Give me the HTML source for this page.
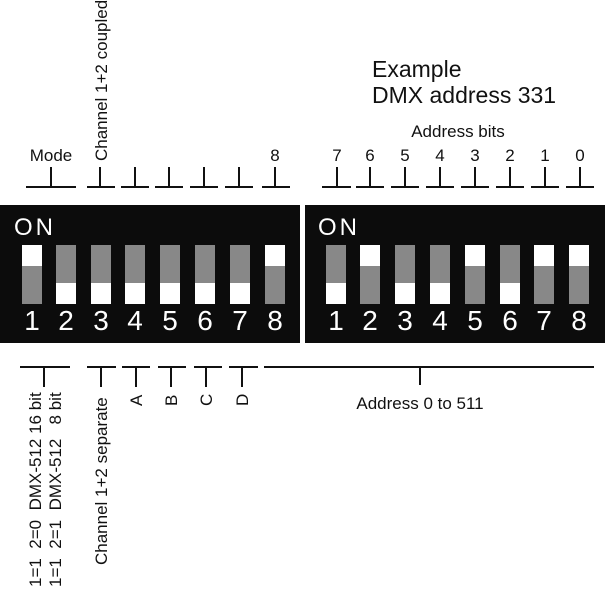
<!DOCTYPE html>
<html><head><style>body{margin:0;background:#fff}svg{display:block}</style></head>
<body>
<svg width="605" height="591" viewBox="0 0 605 591" xmlns="http://www.w3.org/2000/svg" font-family="Liberation Sans, Arial, sans-serif">
<rect width="605" height="591" fill="#fff"/>
<rect x="0" y="205" width="300" height="138" fill="#0c0c0c"/>
<rect x="305" y="205" width="300" height="138" fill="#0c0c0c"/>
<text x="14" y="235" font-size="24" fill="#fff" letter-spacing="3">ON</text>
<text x="318" y="235" font-size="24" fill="#fff" letter-spacing="3">ON</text>
<g>
<rect x="22" y="245" width="20" height="59" fill="#888"/><rect x="22" y="245" width="20" height="21" fill="#fff"/>
<rect x="56" y="245" width="20" height="59" fill="#888"/><rect x="56" y="283" width="20" height="21" fill="#fff"/>
<rect x="91" y="245" width="20" height="59" fill="#888"/><rect x="91" y="283" width="20" height="21" fill="#fff"/>
<rect x="125" y="245" width="20" height="59" fill="#888"/><rect x="125" y="283" width="20" height="21" fill="#fff"/>
<rect x="160" y="245" width="20" height="59" fill="#888"/><rect x="160" y="283" width="20" height="21" fill="#fff"/>
<rect x="195" y="245" width="20" height="59" fill="#888"/><rect x="195" y="283" width="20" height="21" fill="#fff"/>
<rect x="230" y="245" width="20" height="59" fill="#888"/><rect x="230" y="283" width="20" height="21" fill="#fff"/>
<rect x="265" y="245" width="20" height="59" fill="#888"/><rect x="265" y="245" width="20" height="21" fill="#fff"/>
<rect x="326" y="245" width="20" height="59" fill="#888"/><rect x="326" y="283" width="20" height="21" fill="#fff"/>
<rect x="360" y="245" width="20" height="59" fill="#888"/><rect x="360" y="245" width="20" height="21" fill="#fff"/>
<rect x="395" y="245" width="20" height="59" fill="#888"/><rect x="395" y="283" width="20" height="21" fill="#fff"/>
<rect x="430" y="245" width="20" height="59" fill="#888"/><rect x="430" y="283" width="20" height="21" fill="#fff"/>
<rect x="465" y="245" width="20" height="59" fill="#888"/><rect x="465" y="245" width="20" height="21" fill="#fff"/>
<rect x="500" y="245" width="20" height="59" fill="#888"/><rect x="500" y="283" width="20" height="21" fill="#fff"/>
<rect x="534" y="245" width="20" height="59" fill="#888"/><rect x="534" y="245" width="20" height="21" fill="#fff"/>
<rect x="569" y="245" width="20" height="59" fill="#888"/><rect x="569" y="245" width="20" height="21" fill="#fff"/>
</g>
<g font-size="28" fill="#fff" text-anchor="middle">
<text x="32" y="330">1</text><text x="66" y="330">2</text><text x="101" y="330">3</text><text x="135" y="330">4</text>
<text x="170" y="330">5</text><text x="205" y="330">6</text><text x="240" y="330">7</text><text x="275" y="330">8</text>
<text x="336" y="330">1</text><text x="370" y="330">2</text><text x="405" y="330">3</text><text x="440" y="330">4</text>
<text x="475" y="330">5</text><text x="510" y="330">6</text><text x="544" y="330">7</text><text x="579" y="330">8</text>
</g>
<g stroke="#111" stroke-width="2" fill="none">
<path d="M26 187H76M51 167V187"/>
<path d="M87 187H115M100 167V187"/>
<path d="M121 187H149M135 167V187"/>
<path d="M155 187H183M169 167V187"/>
<path d="M190 187H218M204 167V187"/>
<path d="M225 187H253M239 167V187"/>
<path d="M262 187H290M275 167V187"/>
<path d="M322 187H351M337 167V187"/>
<path d="M356 187H384M370 167V187"/>
<path d="M391 187H419M405 167V187"/>
<path d="M426 187H454M440 167V187"/>
<path d="M461 187H489M475 167V187"/>
<path d="M496 187H524M510 167V187"/>
<path d="M531 187H559M545 167V187"/>
<path d="M566 187H594M580 167V187"/>
<path d="M20 367H70M44 367V387"/>
<path d="M87 367H116M101 367V387"/>
<path d="M122 367H150M136 367V387"/>
<path d="M158 367H186M171 367V387"/>
<path d="M194 367H222M206 367V387"/>
<path d="M229 367H258M242 367V387"/>
<path d="M264 367H594M420 367V385"/>
</g>
<g font-size="17" fill="#111">
<text x="51" y="161" text-anchor="middle">Mode</text>
<text x="275" y="161" text-anchor="middle">8</text>
<text x="337" y="161" text-anchor="middle">7</text>
<text x="370" y="161" text-anchor="middle">6</text>
<text x="405" y="161" text-anchor="middle">5</text>
<text x="440" y="161" text-anchor="middle">4</text>
<text x="475" y="161" text-anchor="middle">3</text>
<text x="510" y="161" text-anchor="middle">2</text>
<text x="545" y="161" text-anchor="middle">1</text>
<text x="580" y="161" text-anchor="middle">0</text>
<text x="458" y="137" text-anchor="middle">Address bits</text>
<text x="420" y="409" text-anchor="middle">Address 0 to 511</text>
<text transform="translate(107,161) rotate(-90)">Channel 1+2 coupled</text>
<text transform="translate(107,565) rotate(-90)">Channel 1+2 separate</text>
<text transform="translate(142,406) rotate(-90)">A</text>
<text transform="translate(177,406) rotate(-90)">B</text>
<text transform="translate(212,406) rotate(-90)">C</text>
<text transform="translate(248,406) rotate(-90)">D</text>
<text transform="translate(41,587) rotate(-90)" xml:space="preserve">1=1  2=0  DMX-512 16 bit</text>
<text transform="translate(61,587) rotate(-90)" xml:space="preserve">1=1  2=1  DMX-512   8 bit</text>
</g>
<g font-size="23" fill="#111">
<text x="372" y="77">Example</text>
<text x="372" y="103">DMX address 331</text>
</g>
</svg>
</body></html>
